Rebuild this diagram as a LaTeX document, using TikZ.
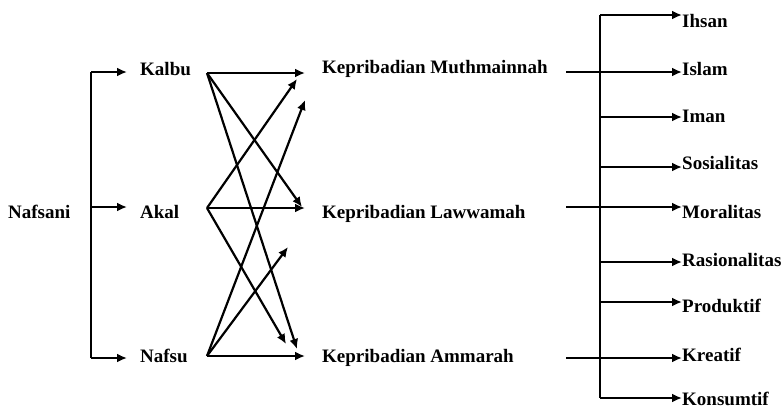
\documentclass[tikz,border=0pt]{standalone}
\usepackage{fontspec}
\setmainfont{Liberation Serif}
\usetikzlibrary{arrows.meta}
\begin{document}
\begin{tikzpicture}[x=1pt,y=-1pt,
  lbl/.style={anchor=base west,inner sep=0pt,font=\fontsize{19}{21}\selectfont\bfseries},
  ln/.style={line width=2.2pt},
  arr/.style={line width=2.2pt,-{Latex[length=10pt,width=9pt]}}]
\useasboundingbox (0,0) rectangle (784,408);
% left labels
\node[lbl] (nafsani) at (8,218) {Nafsani};
\node[lbl] (kalbu) at (140,75) {Kalbu};
\node[lbl] (akal) at (140,218) {Akal};
\node[lbl] (nafsu) at (140,362) {Nafsu};
% middle labels
\node[lbl] (muth) at (322,73) {Kepribadian Muthmainnah};
\node[lbl] (law) at (322,218) {Kepribadian Lawwamah};
\node[lbl] (amm) at (322,362) {Kepribadian Ammarah};
% right labels
\node[lbl] (ihsan) at (682,27) {Ihsan};
\node[lbl] (islam) at (682,75) {Islam};
\node[lbl] (iman) at (682,122) {Iman};
\node[lbl] (sos) at (682,169) {Sosialitas};
\node[lbl] (mor) at (682,218) {Moralitas};
\node[lbl] (ras) at (682,266) {Rasionalitas};
\node[lbl] (pro) at (682,312) {Produktif};
\node[lbl] (kre) at (682,361) {Kreatif};
\node[lbl] (kon) at (682,405) {Konsumtif};
% left bar
\coordinate (b1) at (91,72);
\coordinate (b2) at (91,207);
\coordinate (b3) at (91,358);
\coordinate (kIn) at (127,72);
\coordinate (aIn) at (127,207);
\coordinate (nIn) at (127,358);
\draw[ln] (b1) -- (b3);
\draw[arr] (b1) -- (kIn);
\draw[arr] (b2) -- (aIn);
\draw[arr] (b3) -- (nIn);
% middle arrows
\coordinate (kO) at (207,73);
\coordinate (aO) at (207,208);
\coordinate (nO) at (207,356);
\coordinate (kM) at (305,73);
\coordinate (kL) at (302,207);
\coordinate (kA) at (297,349);
\coordinate (aM) at (297,79);
\coordinate (aL) at (305,208);
\coordinate (aA) at (286,344);
\coordinate (nM) at (305,100);
\coordinate (nL) at (288,247);
\coordinate (nA) at (305,356);
\draw[arr] (kO) -- (kM);
\draw[arr] (kO) -- (kL);
\draw[arr] (kO) -- (kA);
\draw[arr] (aO) -- (aM);
\draw[arr] (aO) -- (aL);
\draw[arr] (aO) -- (aA);
\draw[arr] (nO) -- (nM);
\draw[arr] (nO) -- (nL);
\draw[arr] (nO) -- (nA);
% right side
\coordinate (mO) at (566,72);
\coordinate (lO) at (566,207);
\coordinate (rO) at (566,358);
\coordinate (r1) at (600,15);
\coordinate (r2) at (600,72);
\coordinate (r3) at (600,117);
\coordinate (r4) at (600,167);
\coordinate (r5) at (600,207);
\coordinate (r6) at (600,262);
\coordinate (r7) at (600,302);
\coordinate (r8) at (600,358);
\coordinate (r9) at (600,398);
\draw[ln] (mO) -- (r2);
\draw[ln] (lO) -- (r5);
\draw[ln] (rO) -- (r8);
\draw[ln] (r1) -- (r9);
\draw[arr] (r1) -- (ihsan.west |- r1);
\draw[arr] (r2) -- (islam.west |- r2);
\draw[arr] (r3) -- (iman.west |- r3);
\draw[arr] (r4) -- (sos.west |- r4);
\draw[arr] (r5) -- (mor.west |- r5);
\draw[arr] (r6) -- (ras.west |- r6);
\draw[arr] (r7) -- (pro.west |- r7);
\draw[arr] (r8) -- (kre.west |- r8);
\draw[arr] (r9) -- (kon.west |- r9);
\end{tikzpicture}
\end{document}
